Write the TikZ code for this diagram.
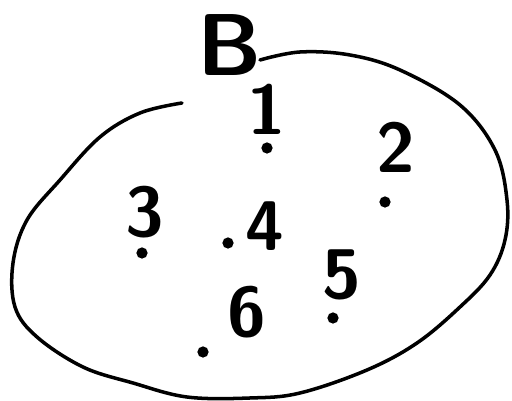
\documentclass[tikz,border=0pt]{standalone}
\usepackage{tikz}
\usetikzlibrary{calc}

\begin{document}
\begin{tikzpicture}[x=0.02cm,y=-0.02cm,
		elem/.style={font=\sffamily\bfseries\fontsize{40}{40}\selectfont, inner sep=0pt},
		setname/.style={font=\sffamily\bfseries\fontsize{50}{50}\selectfont, inner sep=0pt}]
	
	\useasboundingbox (0,0) rectangle (512,401);
	
	% set outline (left open next to the name)
	\draw[line width=2pt, line cap=round] plot[smooth, tension=0.6] coordinates {
		(182,103) (140,113) (100,137) (60,180) (27,220) (13,263) (15,307)
		(37,337) (83,367) (133,383) (187,397) (250,398) (300,393) (367,370)
		(417,343) (460,307) (490,275) (505,240) (507,200) (495,150) (460,105)
		(400,70) (350,55) (300,52) (260,60)};
	
	% name of the set
	\node[setname] (B) at (230,45) {B};
	
	% elements
	\coordinate (e1) at (267,148);
	\coordinate (e2) at (385,202);
	\coordinate (e3) at (142,253);
	\coordinate (e4) at (228,243);
	\coordinate (e5) at (333,318);
	\coordinate (e6) at (203,352);
	
	\fill (e1) circle (3.2pt);
	\fill (e2) circle (3.2pt);
	\fill (e3) circle (3.2pt);
	\fill (e4) circle (3.2pt);
	\fill (e5) circle (3.2pt);
	\fill (e6) circle (3.2pt);
	
	% labels
	\node[elem] (n1) at (267,109) {1};
	\node[elem] (n2) at (396,147) {2};
	\node[elem] (n3) at (145,212) {3};
	\node[elem] (n4) at (265,226) {4};
	\node[elem] (n5) at (342,275) {5};
	\node[elem] (n6) at (247,312) {6};
	
\end{tikzpicture}
\end{document}
